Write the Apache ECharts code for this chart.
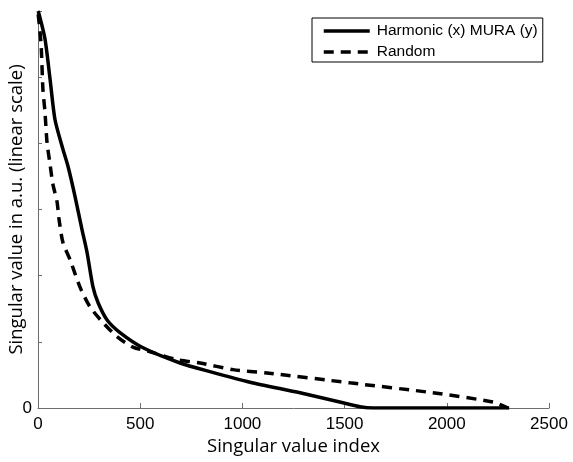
<!DOCTYPE html>
<html>
<head>
<meta charset="utf-8">
<script src="https://cdn.jsdelivr.net/npm/echarts@6/dist/echarts.min.js"></script>
<style>
  html, body { margin: 0; padding: 0; background: #fff; }
  #chart { width: 573px; height: 462px; }
</style>
</head>
<body>
<div id="chart"></div>
<script>
// singular value spectra (y in arbitrary units)
const harmonicIdx = [1, 34, 59, 83, 122, 147, 181, 215, 240, 269, 294, 338, 401, 514, 695, 841, 1037, 1282, 1492, 1575, 1640, 2000, 2305];
const harmonicVal = [6.0, 5.58, 4.97, 4.36, 3.91, 3.65, 3.2, 2.7, 2.35, 1.83, 1.59, 1.33, 1.14, 0.91, 0.68, 0.55, 0.39, 0.23, 0.08, 0.02, 0, 0, 0];

const randomIdx = [1, 15, 24, 34, 44, 59, 73, 93, 103, 122, 157, 205, 254, 318, 386, 465, 548, 680, 793, 954, 1120, 1526, 1932, 2226, 2299];
const randomVal = [5.95, 5.5, 4.82, 4.48, 4.02, 3.68, 3.38, 3.12, 2.85, 2.5, 2.24, 1.83, 1.53, 1.29, 1.08, 0.92, 0.85, 0.73, 0.68, 0.58, 0.53, 0.38, 0.23, 0.09, 0];

const xTicks = [0, 500, 1000, 1500, 2000, 2500];

const pair = (xs, ys) => xs.map((x, i) => [x, ys[i]]);

const chart = echarts.init(document.getElementById('chart'));
const axisGray = '#6e6e6e';
const tickFont = { fontFamily: 'Liberation Sans', fontSize: 17, color: '#000' };
const nameFont = { fontFamily: 'Open Sans', fontSize: 18.5, color: '#000' };

chart.setOption({
  animation: false,
  backgroundColor: '#fff',
  grid: { left: 38, right: 24, top: 11, bottom: 54, outerBoundsMode: 'none' },
  legend: {
    orient: 'vertical',
    left: 312,
    top: 18,
    padding: [5, 5, 2, 10],
    itemGap: 5,
    itemWidth: 46,
    itemHeight: 16,
    borderColor: '#000',
    borderWidth: 1,
    borderRadius: 0,
    itemStyle: { opacity: 0 },
    lineStyle: { width: 3.5 },
    textStyle: { fontFamily: 'Liberation Sans', fontSize: 15.5, lineHeight: 16, color: '#000', padding: [0, 0, 0, 2] },
    data: ['Harmonic (x) MURA (y)', 'Random']
  },
  xAxis: {
    type: 'value',
    min: 0,
    max: 2500,
    interval: 500,
    name: 'Singular value index',
    nameLocation: 'middle',
    nameGap: 29,
    nameMoveOverlap: false,
    nameTextStyle: nameFont,
    axisLine: { lineStyle: { color: axisGray, width: 1 } },
    axisTick: { inside: true, length: 5, lineStyle: { color: axisGray } },
    axisLabel: Object.assign({ margin: 8, formatter: v => xTicks.includes(v) ? String(v) : '' }, tickFont),
    splitLine: { show: false }
  },
  yAxis: {
    type: 'value',
    min: 0,
    max: 6,
    interval: 1,
    name: 'Singular value in a.u. (linear scale)',
    nameLocation: 'middle',
    nameGap: 12,
    nameMoveOverlap: false,
    nameTextStyle: nameFont,
    axisLine: { show: true, lineStyle: { color: axisGray, width: 1 } },
    axisTick: { show: true, inside: true, length: 4, lineStyle: { color: axisGray } },
    axisLabel: Object.assign({ margin: 6, formatter: v => v === 0 ? '0' : '' }, tickFont),
    splitLine: { show: false }
  },
  series: [
    {
      name: 'Harmonic (x) MURA (y)',
      type: 'line',
      data: pair(harmonicIdx, harmonicVal),
      smooth: 0.25,
      showSymbol: false,
      symbol: 'none',
      lineStyle: { color: '#000', width: 3.5 },
      itemStyle: { color: '#000' }
    },
    {
      name: 'Random',
      type: 'line',
      data: pair(randomIdx, randomVal),
      smooth: 0.25,
      showSymbol: false,
      symbol: 'none',
      lineStyle: { color: '#000', width: 3.5, type: [10, 7] },
      itemStyle: { color: '#000' }
    }
  ]
});
</script>
</body>
</html>
